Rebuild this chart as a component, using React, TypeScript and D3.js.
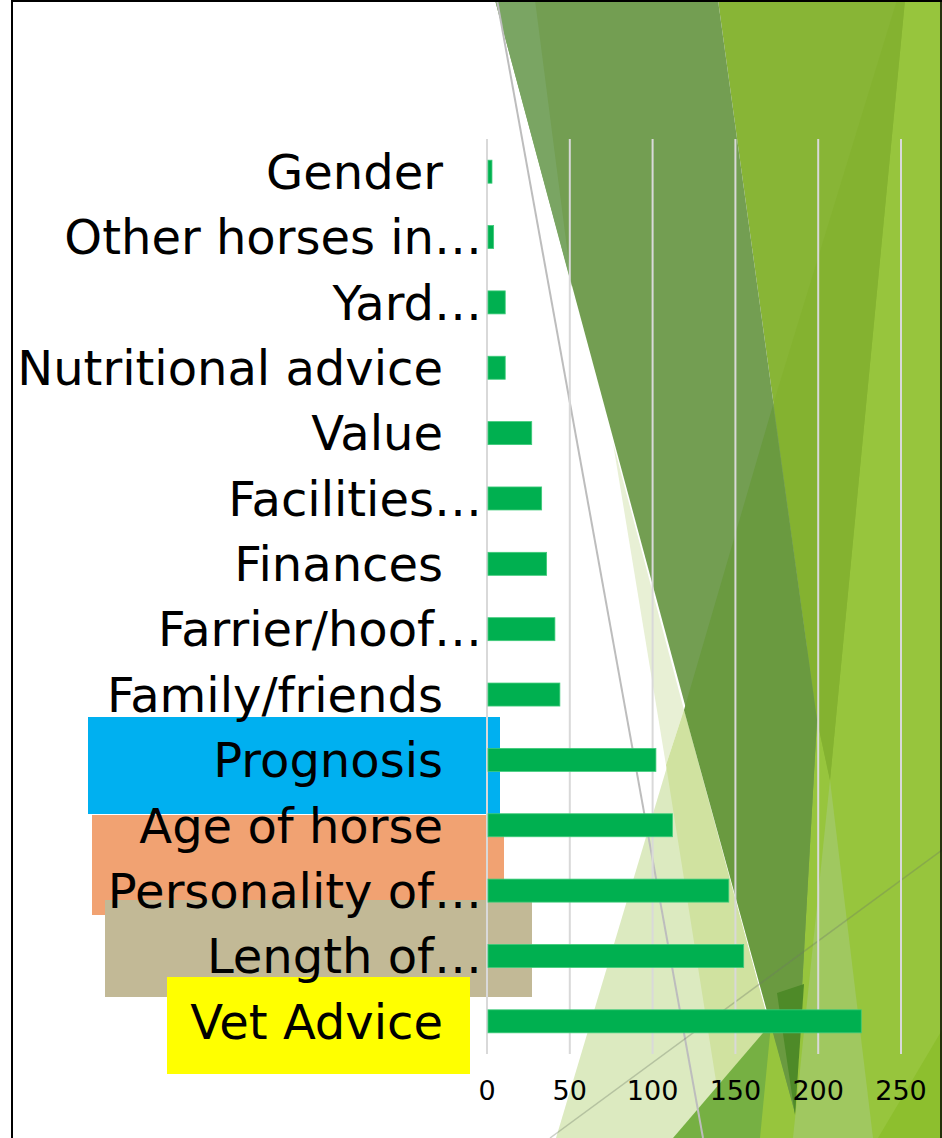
import React from "react";
import * as d3 from "d3";

const categories = [
  "Gender",
  "Other horses in…",
  "Yard…",
  "Nutritional advice",
  "Value",
  "Facilities…",
  "Finances",
  "Farrier/hoof…",
  "Family/friends",
  "Prognosis",
  "Age of horse",
  "Personality of…",
  "Length of…",
  "Vet Advice",
];
const values = [3, 4, 11, 11, 27, 33, 36, 41, 44, 102, 112, 146, 155, 226];
const tickValues = [0, 50, 100, 150, 200, 250];

const W = 942;
const H = 1138;

type P = [number, number][];
const pts = (p: P) => p.map((q) => q.join(",")).join(" ");

export default function App() {
  const x = d3.scaleLinear().domain([0, 250]).range([487, 901]);
  const y = d3
    .scaleBand<string>()
    .domain(categories)
    .range([139, 1054])
    .paddingInner(0.648)
    .paddingOuter(0.324);

  const bg: { p: P; c: string }[] = [
    { p: [[684, 710], [556, 1138], [800, 1138]], c: "#DCEAC0" },
    { p: [[613, 443], [666, 765], [684, 710]], c: "#E8F0D5" },
    { p: [[666, 765], [725, 1138], [800, 1138], [684, 710]], c: "#D0E2A0" },
    { p: [[673, 1138], [810, 978], [795, 1138]], c: "#76B043" },
    { p: [[870, 0], [942, 0], [942, 1138], [760, 1138]], c: "#97C53D" },
    { p: [[718, 0], [905, 0], [830, 780], [817, 720]], c: "#88B536" },
    { p: [[897, 0], [905, 0], [830, 780], [817, 720], [773, 405]], c: "#84B230" },
    { p: [[830, 780], [793, 1138], [873, 1138]], c: "#A0C860" },
    { p: [[942, 1030], [942, 1138], [878, 1138]], c: "#8DBF2E" },
    { p: [[495, 0], [718, 0], [817, 720], [795, 1113]], c: "#739E52" },
    { p: [[495, 0], [535, 0], [572, 287]], c: "#7AA563" },
    { p: [[773, 405], [817, 720], [795, 1113], [684, 710]], c: "#6A9A40" },
    { p: [[777, 993], [804, 984], [795, 1115]], c: "#4E8A28" },
  ];

  const rects = [
    { x0: 92, y0: 815, x1: 504, y1: 915, c: "#F1A272" },
    { x0: 88, y0: 717, x1: 500, y1: 814, c: "#00B0F0" },
    { x0: 105, y0: 900, x1: 532, y1: 997, c: "#C2B996" },
    { x0: 167, y0: 977, x1: 470, y1: 1074, c: "#FFFF00" },
  ];

  const font = "'DejaVu Sans', Verdana, sans-serif";

  return (
    <svg
      width={W}
      height={H}
      style={{ position: "absolute", left: 0, top: 0, background: "#fff" }}
    >
      <rect x={0} y={0} width={W} height={H} fill="#fff" />
      {bg.map((s, i) => (
        <polygon key={i} points={pts(s.p)} fill={s.c} />
      ))}
      <line x1={497} y1={0} x2={703} y2={1138} stroke="#BDBDBD" strokeWidth={2} />
      <line x1={550} y1={1138} x2={942} y2={850} stroke="rgba(110,120,100,0.35)" strokeWidth={1.5} />

      {/* slide border */}
      <line x1={12} y1={0} x2={12} y2={H} stroke="#000" strokeWidth={2} />
      <line x1={12} y1={1} x2={W} y2={1} stroke="#000" strokeWidth={2} />
      <line x1={941} y1={0} x2={941} y2={H} stroke="#000" strokeWidth={1.5} />

      {rects.map((r, i) => (
        <rect key={i} x={r.x0} y={r.y0} width={r.x1 - r.x0} height={r.y1 - r.y0} fill={r.c} />
      ))}

      {tickValues.map((t) => (
        <line
          key={t}
          x1={x(t)}
          x2={x(t)}
          y1={139}
          y2={1054}
          stroke="#D9D9D9"
          strokeWidth={2}
        />
      ))}

      {categories.map((c, i) => (
        <rect
          key={c}
          x={x(0) + 1}
          y={y(c)}
          width={x(values[i]) - x(0) - 1}
          height={y.bandwidth()}
          fill="#00B050"
          stroke="#3FCB7A"
          strokeWidth={0.8}
        />
      ))}

      {categories.map((c) => {
        const trunc = c.endsWith("…");
        return (
          <text
            key={c}
            x={trunc ? 482 : 443}
            y={(y(c) as number) + y.bandwidth() / 2}
            dy="0.36em"
            textAnchor="end"
            fontFamily={font}
            fontSize={48}
            fill="#000"
          >
            {c}
          </text>
        );
      })}

      {tickValues.map((t) => (
        <text
          key={t}
          x={x(t)}
          y={1100}
          textAnchor="middle"
          fontFamily={font}
          fontSize={27}
          fill="#000"
        >
          {t}
        </text>
      ))}
    </svg>
  );
}
